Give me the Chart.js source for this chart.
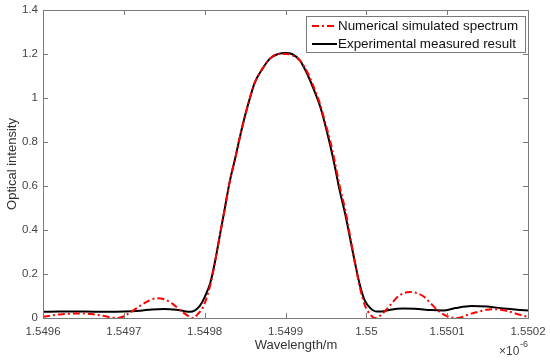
<!DOCTYPE html>
<html lang="en">
<head>
  <meta charset="UTF-8" />
  <title>Optical intensity spectrum</title>
  <script src="https://cdn.jsdelivr.net/npm/chart.js"></script>
  <style>
    body { margin: 0; background: #fff; }
  </style>
</head>
<body>
  <canvas id="spectre" width="550" height="360"></canvas>
  <script>
    // donnees (longueur d'onde en x 1e-6 m)
    const simWavelength = [1.5496, 1.54962, 1.549646, 1.54966, 1.54968, 1.549692, 1.5497, 1.54971, 1.54972, 1.54973,
      1.549741, 1.54975, 1.54976, 1.54977, 1.54978, 1.549786, 1.549792, 1.549798, 1.549804, 1.54981,
      1.549813, 1.549819, 1.549825, 1.549831, 1.549838, 1.549844, 1.54985, 1.549856, 1.549862, 1.549871,
      1.549881, 1.549891, 1.5499, 1.549908, 1.549918, 1.549928, 1.549937, 1.549943, 1.549949, 1.549955,
      1.549961, 1.549967, 1.549974, 1.54998, 1.549986, 1.549992, 1.549998, 1.550005, 1.550011, 1.55002,
      1.55003, 1.55004, 1.550054, 1.55007, 1.55008, 1.55009, 1.5501, 1.550112, 1.55013, 1.550157,
      1.55017, 1.55019, 1.5502];
    const simIntensity = [0.006, 0.016, 0.021, 0.018, 0.006, 0.0, 0.008, 0.03, 0.055, 0.077,
      0.09, 0.085, 0.065, 0.035, 0.008, 0.0, 0.02, 0.05, 0.11, 0.2,
      0.26, 0.38, 0.5, 0.62, 0.73, 0.83, 0.92, 1.0, 1.07, 1.13,
      1.18, 1.2, 1.2, 1.195, 1.17, 1.11, 1.03, 0.97, 0.89, 0.81,
      0.71, 0.6, 0.49, 0.37, 0.25, 0.14, 0.06, 0.015, 0.0, 0.02,
      0.06, 0.1, 0.118, 0.1, 0.065, 0.03, 0.008, 0.0, 0.02, 0.04,
      0.035, 0.015, 0.005];

    const expWavelength = [1.5496, 1.54962, 1.54965, 1.54968, 1.5497, 1.54972, 1.549735, 1.54975, 1.549765, 1.549775,
      1.549782, 1.549788, 1.549794, 1.5498, 1.549807, 1.549813, 1.549819, 1.549825, 1.549831, 1.549838,
      1.549844, 1.54985, 1.549856, 1.549862, 1.549871, 1.549881, 1.549891, 1.5499, 1.549908, 1.549918,
      1.549928, 1.549937, 1.549943, 1.549949, 1.549955, 1.549961, 1.549967, 1.549974, 1.54998, 1.549986,
      1.549992, 1.549998, 1.550005, 1.550013, 1.55002, 1.55003, 1.550045, 1.55006, 1.55008, 1.550095,
      1.55011, 1.55013, 1.55015, 1.55017, 1.5502];
    const expIntensity = [0.028, 0.029, 0.029, 0.028, 0.029, 0.033, 0.039, 0.041, 0.037, 0.031,
      0.028, 0.035, 0.055, 0.095, 0.16, 0.26, 0.38, 0.5, 0.62, 0.73,
      0.83, 0.92, 1.0, 1.07, 1.13, 1.18, 1.2, 1.205, 1.2, 1.17,
      1.1, 1.02, 0.96, 0.88, 0.79, 0.69, 0.58, 0.47, 0.36, 0.25,
      0.15, 0.08, 0.045, 0.029, 0.03, 0.038, 0.043, 0.042, 0.036, 0.034,
      0.045, 0.055, 0.052, 0.043, 0.034];

    const xTicks = [1.5496, 1.5497, 1.5498, 1.5499, 1.55, 1.5501, 1.5502];
    const yTicks = [0, 0.2, 0.4, 0.6, 0.8, 1, 1.2, 1.4];

    const police = 'Arial, "Liberation Sans", sans-serif';
    const gris = '#7a7a7a';

    // cadre, ticks vers l'interieur, legende, titre x et facteur x10^-6
    const cadreMatlab = {
      id: 'cadreMatlab',
      afterDraw(chart) {
        const ctx = chart.ctx;
        const a = chart.chartArea;
        const sx = chart.scales.x, sy = chart.scales.y;
        ctx.save();
        ctx.strokeStyle = gris;
        ctx.lineWidth = 1;
        ctx.strokeRect(a.left + 0.5, a.top + 0.5, a.right - a.left, a.bottom - a.top);
        ctx.beginPath();
        xTicks.forEach(v => {
          const px = Math.round(sx.getPixelForValue(v)) + 0.5;
          ctx.moveTo(px, a.bottom); ctx.lineTo(px, a.bottom - 5);
          ctx.moveTo(px, a.top); ctx.lineTo(px, a.top + 5);
        });
        yTicks.forEach(v => {
          const py = Math.round(sy.getPixelForValue(v)) + 0.5;
          ctx.moveTo(a.left, py); ctx.lineTo(a.left + 5, py);
          ctx.moveTo(a.right, py); ctx.lineTo(a.right - 5, py);
        });
        ctx.stroke();

        // legende
        const bx = 306, by = 16, bw = 219, bh = 36;
        ctx.fillStyle = '#fff';
        ctx.fillRect(bx, by, bw, bh);
        ctx.strokeRect(bx + 0.5, by + 0.5, bw, bh);
        ctx.font = '13.4px ' + police;
        ctx.textBaseline = 'middle';
        chart.data.datasets.forEach((ds, i) => {
          const y = by + 10 + i * 18;
          ctx.save();
          ctx.strokeStyle = ds.borderColor;
          ctx.lineWidth = 2;
          ctx.setLineDash(ds.borderDash || []);
          ctx.beginPath();
          ctx.moveTo(bx + 6, y); ctx.lineTo(bx + 31, y);
          ctx.stroke();
          ctx.restore();
          ctx.fillStyle = '#111';
          ctx.fillText(ds.label, bx + 32, y);
        });

        // titre de l'axe x
        ctx.fillStyle = '#333';
        ctx.font = '13px ' + police;
        ctx.textAlign = 'center';
        ctx.fillText('Wavelength/m', 296, 345);

        // facteur d'echelle
        ctx.fillStyle = '#444';
        ctx.textAlign = 'left';
        ctx.textBaseline = 'alphabetic';
        ctx.font = '12px ' + police;
        ctx.fillText('\u00d710', 499, 355);
        ctx.font = '9px ' + police;
        ctx.fillText('-6', 520, 347);
        ctx.restore();
      }
    };

    const ctx = document.getElementById('spectre').getContext('2d');
    const monGraphe = new Chart(ctx, {
      type: 'line',
      data: {
        datasets: [{
          label: 'Numerical simulated spectrum',
          data: simWavelength.map((w, i) => ({ x: w, y: simIntensity[i] })),
          borderColor: '#ff0000',
          borderWidth: 2,
          borderDash: [7, 3, 2, 3],
          pointRadius: 0,
          cubicInterpolationMode: 'monotone'
        }, {
          label: 'Experimental measured result',
          data: expWavelength.map((w, i) => ({ x: w, y: expIntensity[i] })),
          borderColor: '#000000',
          borderWidth: 2,
          pointRadius: 0,
          cubicInterpolationMode: 'monotone'
        }]
      },
      options: {
        responsive: false,
        animation: false,
        devicePixelRatio: 1,
        layout: { padding: { top: 10, right: 22, left: 0, bottom: 0 } },
        plugins: { legend: { display: false }, tooltip: { enabled: false } },
        scales: {
          x: {
            type: 'linear',
            min: 1.5496,
            max: 1.5502,
            afterBuildTicks: s => { s.ticks = xTicks.map(v => ({ value: v })); },
            afterFit: s => { s.height = 42; s.paddingLeft = 0; s.paddingRight = 0; },
            grid: { display: false, drawTicks: false },
            border: { display: false },
            ticks: {
              padding: 7,
              color: '#444',
              font: { family: police, size: 11.5 },
              maxRotation: 0,
              callback: v => String(Number(v.toFixed(4)))
            }
          },
          y: {
            min: 0,
            max: 1.4,
            afterBuildTicks: s => { s.ticks = yTicks.map(v => ({ value: v })); },
            afterFit: s => { s.width = 43; s.paddingTop = 0; s.paddingBottom = 0; },
            grid: { display: false, drawTicks: false },
            border: { display: false },
            ticks: {
              padding: 5,
              color: '#444',
              font: { family: police, size: 11.5 },
              callback: v => String(Number(v.toFixed(1)))
            },
            title: {
              display: true,
              text: 'Optical intensity',
              color: '#333',
              font: { family: police, size: 13 },
              padding: { top: 5, bottom: 0 }
            }
          }
        }
      },
      plugins: [cadreMatlab]
    });
  </script>
</body>
</html>
